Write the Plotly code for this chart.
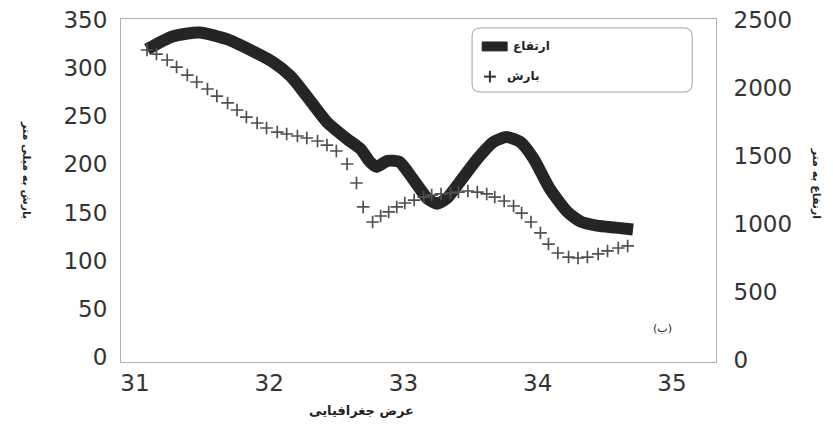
import plotly.graph_objects as go

# Elevation (m) along latitude
elev_lat = [31.09, 31.28, 31.48, 31.69, 31.88, 32.03, 32.16, 32.28, 32.43, 32.58,
            32.68, 32.75, 32.80, 32.88, 32.97, 33.07, 33.18, 33.25, 33.32, 33.42,
            33.55, 33.67, 33.77, 33.87, 33.97, 34.09, 34.22, 34.32, 34.44, 34.58, 34.71]
elevation = [2281, 2376, 2405, 2354, 2266, 2186, 2083, 1937, 1747, 1623,
             1550, 1455, 1418, 1462, 1455, 1330, 1184, 1148, 1184, 1308,
             1477, 1601, 1637, 1601, 1477, 1257, 1089, 1016, 987, 972, 958]

# Precipitation (mm) along latitude
prec_lat = [31.09, 31.16, 31.24, 31.31, 31.39, 31.46, 31.54, 31.61, 31.69, 31.76,
            31.83, 31.91, 31.98, 32.06, 32.13, 32.21, 32.28, 32.36, 32.43, 32.50,
            32.58, 32.65, 32.70, 32.77, 32.83, 32.89, 32.95, 33.01, 33.08, 33.15,
            33.21, 33.28, 33.35, 33.41, 33.48, 33.55, 33.62, 33.68, 33.75, 33.82,
            33.88, 33.95, 34.02, 34.08, 34.15, 34.23, 34.30, 34.37, 34.45, 34.52,
            34.60, 34.67]
precipitation = [318.8, 314.6, 308.4, 301.1, 292.8, 285.6, 278.3, 271.0, 263.8, 256.5,
                 249.2, 243.0, 237.8, 233.6, 231.6, 229.5, 227.4, 224.3, 220.1, 213.9,
                 200.4, 180.7, 155.8, 140.2, 146.4, 150.6, 155.8, 159.9, 163.0, 166.1,
                 168.2, 169.3, 170.3, 171.3, 172.4, 171.3, 169.3, 166.1, 162.0, 156.8,
                 149.5, 140.2, 128.8, 117.3, 108.0, 103.8, 102.8, 103.8, 107.0, 110.1,
                 113.2, 115.3]

x_ticks = [31, 32, 33, 34, 35]
left_ticks = [0, 50, 100, 150, 200, 250, 300, 350]
right_ticks = [0, 500, 1000, 1500, 2000, 2500]

FONT = "DejaVu Sans"
fig = go.Figure()

fig.add_trace(go.Scatter(
    x=elev_lat, y=elevation, mode="lines", name="ارتفاع",
    line=dict(color="#252525", width=12, shape="spline", smoothing=0.6),
    yaxis="y", showlegend=False))

fig.add_trace(go.Scatter(
    x=prec_lat, y=precipitation, mode="markers", name="بارش",
    marker=dict(symbol="cross-thin", size=9, line=dict(color="#505050", width=1.7)),
    yaxis="y2", showlegend=False))

axis_line = dict(showline=True, linecolor="#b0b0b0", linewidth=1, showgrid=False, zeroline=False,
                 ticks="", ticklabeloverflow="allow",
                 tickfont=dict(family=FONT, size=23, color="#333"))

fig.update_layout(
    width=825, height=425,
    margin=dict(l=113, r=117, t=11, b=71),
    paper_bgcolor="white", plot_bgcolor="white",
    xaxis=dict(range=[30.896, 35.328], tickvals=x_ticks, mirror=True, **axis_line),
    yaxis=dict(range=[-15, 2504], tickvals=right_ticks, side="right", mirror=True,
               ticklabelstandoff=12, automargin=False, **axis_line),
    yaxis2=dict(range=[-5.2, 351], tickvals=left_ticks, side="left", overlaying="y",
                ticklabelstandoff=8, automargin=False, **axis_line),
)

# Custom legend (RTL style) with rounded box
x0, x1, y0, y1 = 0.590, 0.960, 0.787, 0.974
rx, ry = 0.014, 0.024
path = (f"M {x0+rx},{y0} L {x1-rx},{y0} Q {x1},{y0} {x1},{y0+ry} L {x1},{y1-ry} "
        f"Q {x1},{y1} {x1-rx},{y1} L {x0+rx},{y1} Q {x0},{y1} {x0},{y1-ry} "
        f"L {x0},{y0+ry} Q {x0},{y0} {x0+rx},{y0} Z")
fig.add_shape(type="path", path=path, xref="paper", yref="paper",
              line=dict(color="#a0a0a0", width=1), fillcolor="white")
fig.add_shape(type="rect", xref="paper", yref="paper", x0=0.607, x1=0.649, y0=0.907, y1=0.933,
              line=dict(color="#252525", width=1), fillcolor="#252525")
fig.add_shape(type="line", xref="paper", yref="paper", x0=0.610, x1=0.630, y0=0.832, y1=0.832,
              line=dict(color="#333", width=2))
fig.add_shape(type="line", xref="paper", yref="paper", x0=0.620, x1=0.620, y0=0.815, y1=0.849,
              line=dict(color="#333", width=2))
fig.add_annotation(text="<b>ارتفاع</b>", xref="paper", yref="paper", x=0.724, y=0.92,
                   xanchor="right", yanchor="middle", showarrow=False,
                   font=dict(family=FONT, size=12, color="#222"))
fig.add_annotation(text="<b>بارش</b>", xref="paper", yref="paper", x=0.706, y=0.834,
                   xanchor="right", yanchor="middle", showarrow=False,
                   font=dict(family=FONT, size=12, color="#222"))

fig.add_annotation(text="(ب)", xref="paper", yref="paper", x=0.91, y=0.099,
                   xanchor="center", yanchor="middle", showarrow=False,
                   font=dict(family=FONT, size=11, color="#222"))

# Axis titles
fig.add_annotation(text="<b>عرض جغرافیایی</b>", xref="paper", yref="paper", x=0.405, y=-0.14,
                   xanchor="center", yanchor="middle", showarrow=False,
                   font=dict(family=FONT, size=13, color="#222"))
fig.add_annotation(text="<b>بارش به میلی متر</b>", xref="paper", yref="paper", x=-0.16, y=0.56,
                   textangle=90, xanchor="center", yanchor="middle", showarrow=False,
                   font=dict(family=FONT, size=11, color="#222"))
fig.add_annotation(text="<b>ارتفاع به متر</b>", xref="paper", yref="paper", x=1.168, y=0.52,
                   textangle=90, xanchor="center", yanchor="middle", showarrow=False,
                   font=dict(family=FONT, size=11, color="#222"))

fig.write_html("out.html")
